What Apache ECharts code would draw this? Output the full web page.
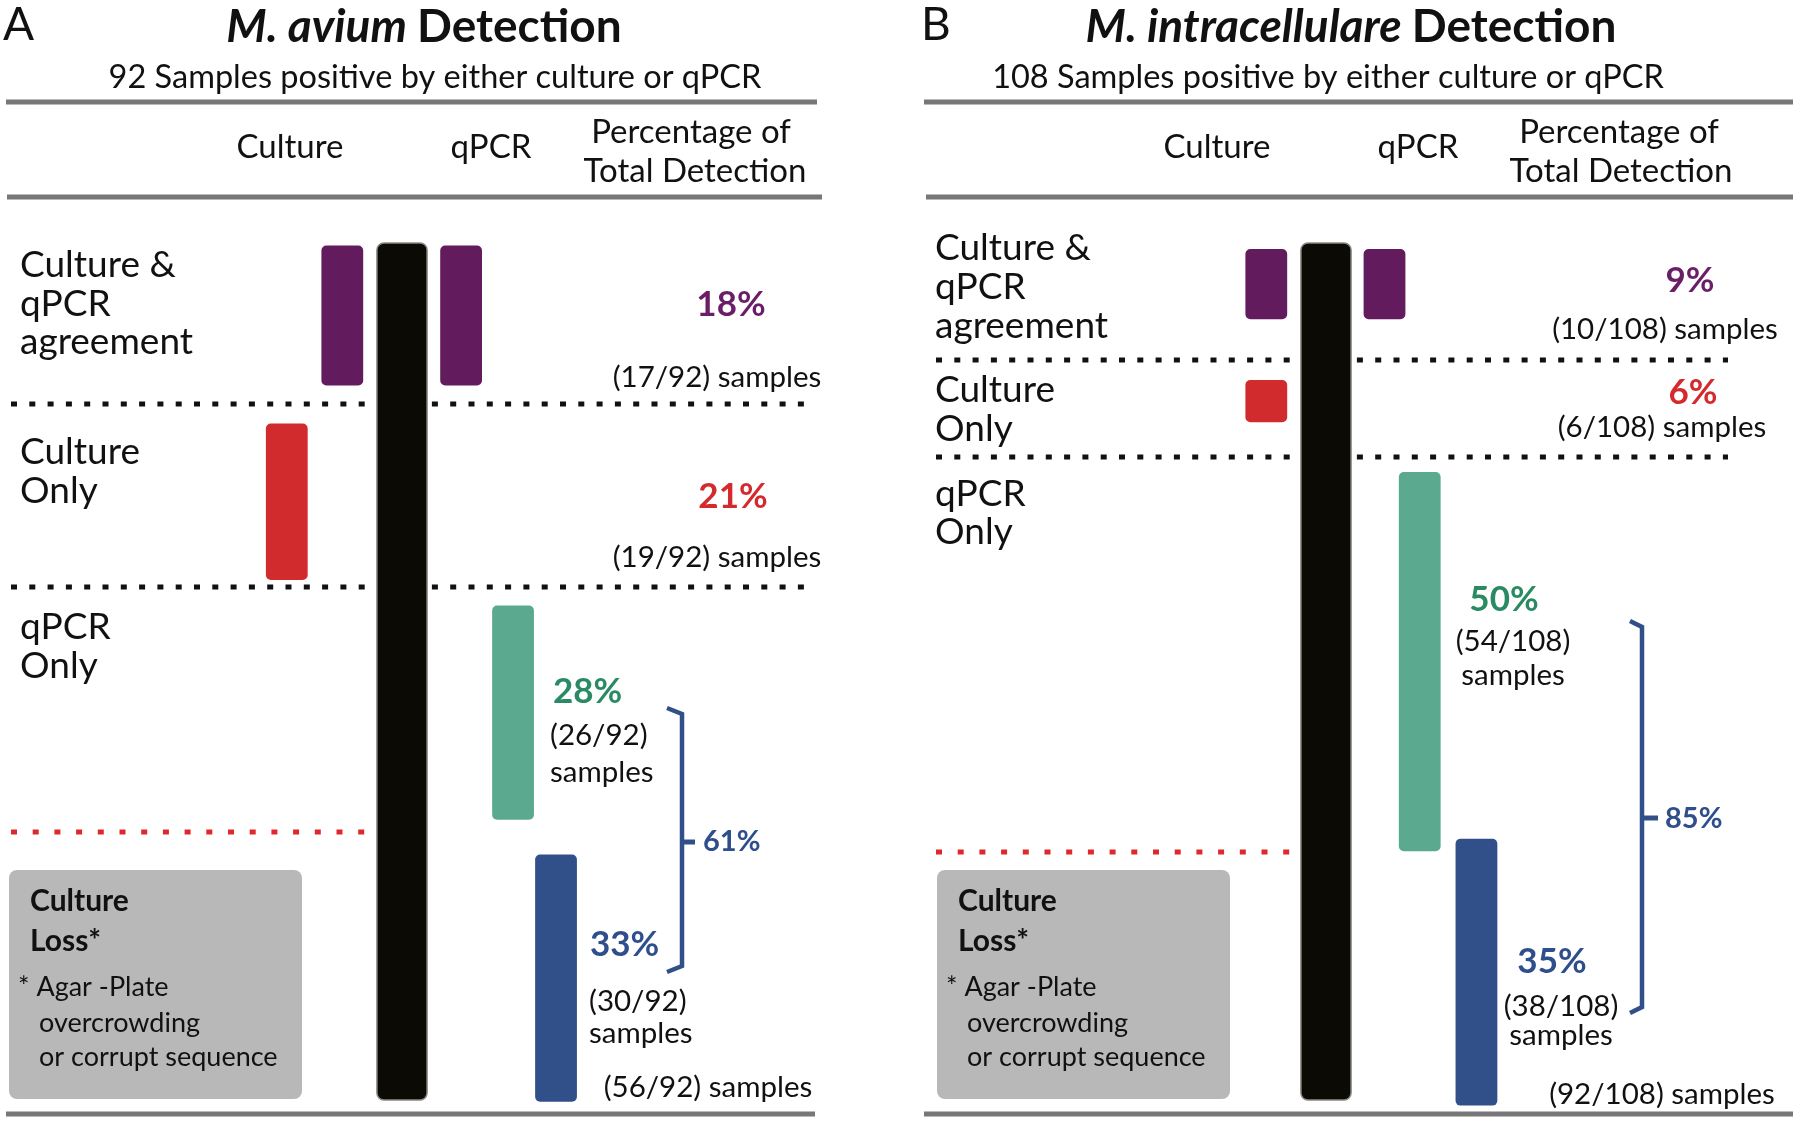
<!DOCTYPE html>
<html><head><meta charset="utf-8">
<script src="https://cdn.jsdelivr.net/npm/echarts@6/dist/echarts.min.js"></script>
<style>html,body{margin:0;padding:0;background:#fff}#c{width:1800px;height:1122px}</style>
</head><body><div id="c"></div>
<script>
// ---------------- DATA ----------------
const categories = ['Culture & qPCR agreement', 'Culture Only', 'qPCR Only', 'Culture Loss'];
const aviumCounts = [17, 19, 26, 30];      // agreement, culture only, qPCR only, culture loss
const intraCounts = [10, 6, 54, 38];
const aviumTotal = 92;
const intraTotal = 108;
const aviumPercent = ['18%', '21%', '28%', '33%'];
const intraPercent = ['9%', '6%', '50%', '35%'];
const aviumQpcrOnlyTotal = 56, aviumQpcrOnlyPercent = '61%';
const intraQpcrOnlyTotal = 92, intraQpcrOnlyPercent = '85%';

// ---------------- LAYOUT (not data) ----------------
const FONT = 'Lato';
const C = { black: '#0C0A05', purple: '#621B5C', red: '#D12B2E', green: '#5BAA90', navy: '#31508A',
            purpleT: '#6A1E66', redT: '#D42A2E', greenT: '#2A8A63', navyT: '#2F4E8C', gray: '#777777', box: '#B9B8B9' };
const S = { title: 46, letter: 46, sub: 32.5, head: 33, row: 37, pct: 35, cnt: 29.5, boxB: 30, box: 27, bracket: 29 };
// column offsets relative to the sample (black) column
const aviumCols = { cultureOnly: -1.93, cultureAgree: -1.0, qpcrAgree: 0.99, qpcrOnly: 1.86, loss: 2.58 };
const intraCols = { cultureOnly: -1.0, cultureAgree: -1.0, qpcrAgree: 0.98, qpcrOnly: 1.57, loss: 2.52 };
const aviumStart = [0.3, 21.9, 44.0, 74.2];
const intraStart = [0.85, 19.5, 32.6, 84.8];
const aviumYMax = 104, intraYMax = 122;

function bars(counts, starts, cols, yMax) {
  const cw = 0.70;
  return [
    { value: [0, 0, yMax, 0.84], itemStyle: { color: C.black } },
    { value: [cols.cultureAgree, starts[0], starts[0] + counts[0], cw], itemStyle: { color: C.purple } },
    { value: [cols.qpcrAgree, starts[0], starts[0] + counts[0], cw], itemStyle: { color: C.purple } },
    { value: [cols.cultureOnly, starts[1], starts[1] + counts[1], cw], itemStyle: { color: C.red } },
    { value: [cols.qpcrOnly, starts[2], starts[2] + counts[2], cw], itemStyle: { color: C.green } },
    { value: [cols.loss, starts[3], starts[3] + counts[3], cw], itemStyle: { color: C.navy } }
  ];
}
function renderBar(params, api) {
  const x = api.value(0), y0 = api.value(1), y1 = api.value(2), w = api.value(3);
  const p0 = api.coord([x, y0]), p1 = api.coord([x, y1]);
  const ww = api.size([w, 0])[0];
  const isBlack = params.dataIndex === 0;
  return { type: 'rect', shape: { x: p0[0] - ww / 2, y: p0[1], width: ww, height: p1[1] - p0[1], r: isBlack ? 7 : 5 },
    style: { fill: api.visual('color'), stroke: isBlack ? '#8a8a82' : null, lineWidth: isBlack ? 1.5 : 0 } };
}

// ---------------- graphic helpers ----------------
const G = [];
function T(text, x, y, size, opt) {
  opt = opt || {};
  G.push({ type: 'text', silent: true, style: { text: text, x: x, y: y,
    font: (opt.italic ? 'italic ' : '') + (opt.bold ? 'bold ' : '') + size + 'px ' + FONT,
    fill: opt.color || '#111', textAlign: opt.align || 'left', textVerticalAlign: 'middle' } });
}
function L(x1, y1, x2, y2, color, w, dash) {
  G.push({ type: 'line', silent: true, shape: { x1: x1, y1: y1, x2: x2, y2: y2 },
    style: { stroke: color, lineWidth: w, lineDash: dash || null } });
}
function title(x, y, italicPart, rest) {
  G.push({ type: 'text', silent: true, style: { text: '{i|' + italicPart + ' }{b|' + rest + '}', x: x, y: y,
    textAlign: 'center', textVerticalAlign: 'middle',
    rich: { i: { fontFamily: FONT, fontSize: S.title, fontWeight: 'bold', fontStyle: 'italic', fill: '#111' },
            b: { fontFamily: FONT, fontSize: S.title, fontWeight: 'bold', fill: '#111' } } } });
}

// ---- Panel A ----
T('A', 3, 25, S.letter);
title(424, 27, 'M. avium', 'Detection');
T(aviumTotal + ' Samples positive by either culture or qPCR', 435, 78, S.sub, { align: 'center' });
L(6, 102, 817, 102, C.gray, 5);
T('Culture', 290, 147, S.head, { align: 'center' });
T('qPCR', 491, 147, S.head, { align: 'center' });
T('Percentage of', 691, 132, S.head, { align: 'center' });
T('Total Detection', 695, 171, S.head, { align: 'center' });
L(7, 197, 822, 197, C.gray, 5);
L(11, 404, 809, 404, '#111', 5, [6, 12.3]);
L(11, 587, 809, 587, '#111', 5, [6, 12.3]);
L(11, 832, 368, 832, '#E0282C', 5, [6, 15.7]);
L(6, 1114, 815, 1114, C.gray, 5);
T('Culture &', 20, 265, S.row); T('qPCR', 20, 304, S.row); T('agreement', 20, 342, S.row);
T('Culture', 20, 452, S.row); T('Only', 20, 491, S.row);
T('qPCR', 20, 627, S.row); T('Only', 20, 666, S.row);
T(aviumPercent[0], 731, 305, S.pct, { bold: true, color: C.purpleT, align: 'center' });
T('(' + aviumCounts[0] + '/' + aviumTotal + ') samples', 717, 377, S.cnt, { align: 'center' });
T(aviumPercent[1], 733, 497, S.pct, { bold: true, color: C.redT, align: 'center' });
T('(' + aviumCounts[1] + '/' + aviumTotal + ') samples', 717, 557, S.cnt, { align: 'center' });
T(aviumPercent[2], 553, 692, S.pct, { bold: true, color: C.greenT });
T('(' + aviumCounts[2] + '/' + aviumTotal + ')', 550, 735, S.cnt);
T('samples', 550, 772, S.cnt);
T(aviumPercent[3], 590, 945, S.pct, { bold: true, color: C.navyT });
T('(' + aviumCounts[3] + '/' + aviumTotal + ')', 589, 1001, S.cnt);
T('samples', 589, 1033, S.cnt);
T('(' + aviumQpcrOnlyTotal + '/' + aviumTotal + ') samples', 708, 1087, S.cnt, { align: 'center' });
G.push({ type: 'polyline', silent: true, shape: { points: [[667, 708], [682, 714], [682, 966], [667, 972]] },
  style: { stroke: C.navy, lineWidth: 4.5, fill: null } });
L(682, 842, 695, 842, C.navy, 5);
T(aviumQpcrOnlyPercent, 703, 842, S.bracket, { bold: true, color: C.navyT });
G.push({ type: 'rect', silent: true, shape: { x: 9, y: 870, width: 293, height: 229, r: 8 }, style: { fill: C.box } });
T('Culture', 30, 901, S.boxB, { bold: true }); T('Loss*', 30, 941, S.boxB, { bold: true });
T('* Agar -Plate', 18, 987, S.box); T('overcrowding', 39, 1023, S.box); T('or corrupt sequence', 39, 1057, S.box);

// ---- Panel B ----
T('B', 921, 25, S.letter);
title(1351, 27, 'M. intracellulare', 'Detection');
T(intraTotal + ' Samples positive by either culture or qPCR', 1328, 78, S.sub, { align: 'center' });
L(924, 102, 1793, 102, C.gray, 5);
T('Culture', 1217, 147, S.head, { align: 'center' });
T('qPCR', 1418, 147, S.head, { align: 'center' });
T('Percentage of', 1619, 132, S.head, { align: 'center' });
T('Total Detection', 1621, 171, S.head, { align: 'center' });
L(926, 197, 1793, 197, C.gray, 5);
L(936, 360, 1728, 360, '#111', 5, [6, 12.3]);
L(936, 457, 1728, 457, '#111', 5, [6, 12.3]);
L(936, 852, 1292, 852, '#E0282C', 5, [6, 15.7]);
L(924, 1114, 1793, 1114, C.gray, 5);
T('Culture &', 935, 248, S.row); T('qPCR', 935, 287, S.row); T('agreement', 935, 326, S.row);
T('Culture', 935, 390, S.row); T('Only', 935, 429, S.row);
T('qPCR', 935, 494, S.row); T('Only', 935, 532, S.row);
T(intraPercent[0], 1690, 281, S.pct, { bold: true, color: C.purpleT, align: 'center' });
T('(' + intraCounts[0] + '/' + intraTotal + ') samples', 1665, 329, S.cnt, { align: 'center' });
T(intraPercent[1], 1693, 393, S.pct, { bold: true, color: C.redT, align: 'center' });
T('(' + intraCounts[1] + '/' + intraTotal + ') samples', 1662, 427, S.cnt, { align: 'center' });
T(intraPercent[2], 1504, 600, S.pct, { bold: true, color: C.greenT, align: 'center' });
T('(' + intraCounts[2] + '/' + intraTotal + ')', 1513, 641, S.cnt, { align: 'center' });
T('samples', 1513, 675, S.cnt, { align: 'center' });
T(intraPercent[3], 1552, 962, S.pct, { bold: true, color: C.navyT, align: 'center' });
T('(' + intraCounts[3] + '/' + intraTotal + ')', 1561, 1006, S.cnt, { align: 'center' });
T('samples', 1561, 1035, S.cnt, { align: 'center' });
T('(' + intraQpcrOnlyTotal + '/' + intraTotal + ') samples', 1662, 1094, S.cnt, { align: 'center' });
G.push({ type: 'polyline', silent: true, shape: { points: [[1630, 621], [1642, 627], [1642, 1007], [1630, 1013]] },
  style: { stroke: C.navy, lineWidth: 4.5, fill: null } });
L(1642, 818, 1658, 818, C.navy, 5);
T(intraQpcrOnlyPercent, 1665, 819, S.bracket, { bold: true, color: C.navyT });
G.push({ type: 'rect', silent: true, shape: { x: 937, y: 870, width: 293, height: 229, r: 8 }, style: { fill: C.box } });
T('Culture', 958, 901, S.boxB, { bold: true }); T('Loss*', 958, 941, S.boxB, { bold: true });
T('* Agar -Plate', 946, 987, S.box); T('overcrowding', 967, 1023, S.box); T('or corrupt sequence', 967, 1057, S.box);

// ---------------- chart ----------------
const U = 59.7;
const chart = echarts.init(document.getElementById('c'));
const hiddenAxis = { show: false, splitLine: { show: false } };
chart.setOption({
  backgroundColor: '#fff',
  animation: false,
  grid: [
    { left: 402 - 3 * U, width: 6 * U, top: 243, height: 857 },
    { left: 1326 - 3 * U, width: 6 * U, top: 243, height: 857 }
  ],
  xAxis: [
    Object.assign({ type: 'value', gridIndex: 0, min: -3, max: 3 }, hiddenAxis),
    Object.assign({ type: 'value', gridIndex: 1, min: -3, max: 3 }, hiddenAxis)
  ],
  yAxis: [
    Object.assign({ type: 'value', gridIndex: 0, min: 0, max: aviumYMax, inverse: true }, hiddenAxis),
    Object.assign({ type: 'value', gridIndex: 1, min: 0, max: intraYMax, inverse: true }, hiddenAxis)
  ],
  graphic: G,
  series: [
    { type: 'custom', name: 'M. avium', xAxisIndex: 0, yAxisIndex: 0, renderItem: renderBar, clip: false,
      data: bars(aviumCounts, aviumStart, aviumCols, aviumYMax) },
    { type: 'custom', name: 'M. intracellulare', xAxisIndex: 1, yAxisIndex: 1, renderItem: renderBar, clip: false,
      data: bars(intraCounts, intraStart, intraCols, intraYMax) }
  ]
});
</script></body></html>
